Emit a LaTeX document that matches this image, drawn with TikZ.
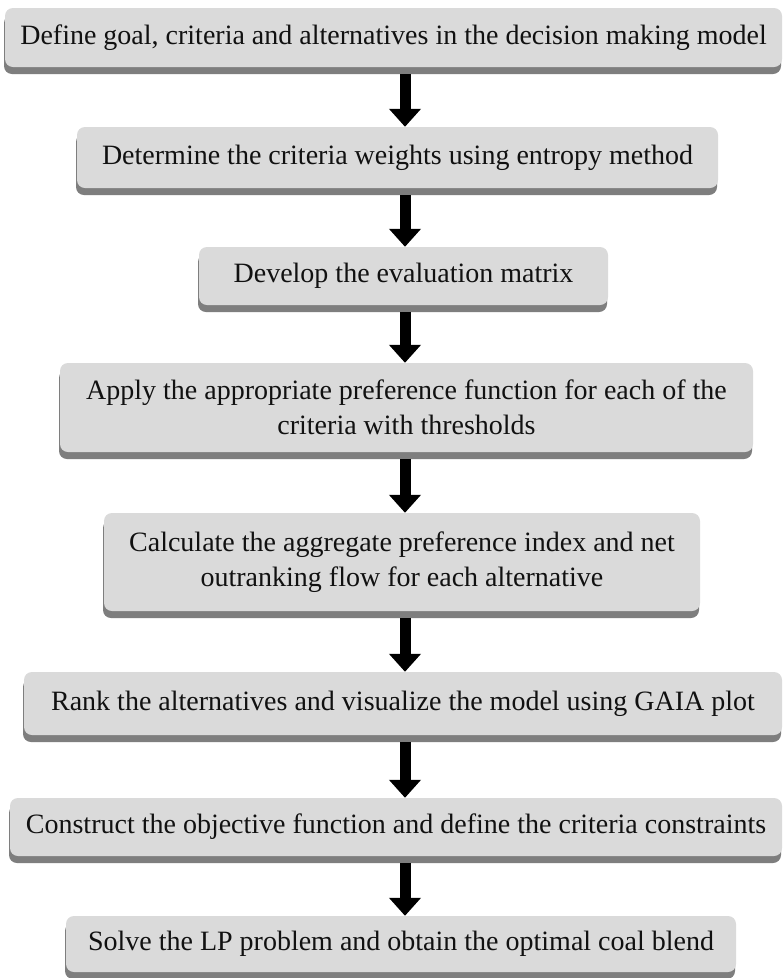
\documentclass[tikz,border=0pt]{standalone}
\usepackage{fontspec}
\setmainfont{Liberation Serif}
\usetikzlibrary{arrows.meta,shadows}
\definecolor{boxfill}{HTML}{DADADA}
\definecolor{boxshadow}{HTML}{7E7E7E}
\definecolor{ink}{HTML}{111111}
\tikzset{
  stepbox/.style={fill=boxfill, rounded corners=8pt, inner sep=0pt, align=center,
    text=ink, font=\fontsize{28}{35}\selectfont,
    general shadow={fill=boxshadow, shadow xshift=-1pt, shadow yshift=-7pt}},
  bigarrow/.style={draw=black, line width=11pt,
    -{Triangle[width=31pt,length=18pt]}},
}
\begin{document}
\begin{tikzpicture}[x=1pt,y=-1pt]
\fill[white] (0,0) rectangle (783,978);
\useasboundingbox (0,0) rectangle (783,978);
\coordinate (ax) at (405,0);
\node[stepbox, minimum width=777pt, minimum height=59pt] (b1) at (393.5,37.5)
  {Define goal, criteria and alternatives in the decision making model};
\node[stepbox, minimum width=641pt, minimum height=61pt] (b2) at (397.5,157.5)
  {Determine the criteria weights using entropy method};
\node[stepbox, minimum width=409pt, minimum height=58pt] (b3) at (403.5,276)
  {Develop the evaluation matrix};
\node[stepbox, minimum width=693pt, minimum height=89pt] (b4) at (406.5,407.5)
  {Apply the appropriate preference function for each of the\\criteria with thresholds};
\node[stepbox, minimum width=596pt, minimum height=98pt] (b5) at (402,562)
  {Calculate the aggregate preference index and net\\outranking flow for each alternative};
\node[stepbox, minimum width=758pt, minimum height=63pt] (b6) at (403,703.5)
  {Rank the alternatives and visualize the model using GAIA plot};
\node[stepbox, minimum width=772pt, minimum height=58pt] (b7) at (396,827)
  {Construct the objective function and define the criteria constraints};
\node[stepbox, minimum width=670pt, minimum height=56pt] (b8) at (401,944)
  {Solve the LP problem and obtain the optimal coal blend};
\foreach \a/\b in {b1/b2,b2/b3,b3/b4,b4/b5,b5/b6,b6/b7,b7/b8}{
  \draw[bigarrow] ([yshift=-7pt]\a.south -| ax) -- (\b.north -| ax);
}
\end{tikzpicture}
\end{document}
